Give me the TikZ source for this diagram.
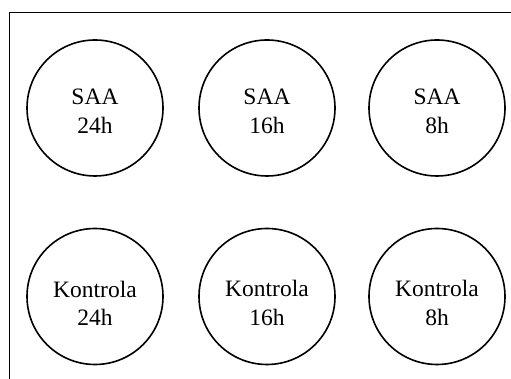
\documentclass[tikz,border=0pt]{standalone}
\usepackage{fontspec}
\setmainfont{Liberation Serif}
\begin{document}
\begin{tikzpicture}[x=1pt,y=1pt,
  group/.style={circle,draw,line width=1.6pt,minimum size=136pt,inner sep=0pt},
  grouptext/.style={align=center,inner sep=0pt,
    font=\fontsize{23.5pt}{28.5pt}\selectfont}]
\useasboundingbox (0,0) rectangle (511,379);

% open frame: left and top edges only
\draw[line width=1.2pt] (9.5,0) -- (9.5,366.5) -- (511,366.5);

% upper row: SAA groups
\node[group] (saa24) at (95,271) {};
\node[group] (saa16) at (267,271) {};
\node[group] (saa8)  at (437,271) {};

% lower row: control groups
\node[group] (k24) at (95,82.5) {};
\node[group] (k16) at (267,82.5) {};
\node[group] (k8)  at (437,82.5) {};

% labels
\node[grouptext] (tsaa24) at ([yshift=-3.3pt]saa24.center) {SAA\\24h};
\node[grouptext] (tsaa16) at ([yshift=-3.3pt]saa16.center) {SAA\\16h};
\node[grouptext] (tsaa8)  at ([yshift=-3.3pt]saa8.center)  {SAA\\8h};
\node[grouptext] (tk24) at ([yshift=-6.7pt]k24.center) {Kontrola\\24h};
\node[grouptext] (tk16) at ([yshift=-6.7pt]k16.center) {Kontrola\\16h};
\node[grouptext] (tk8)  at ([yshift=-6.7pt]k8.center)  {Kontrola\\8h};
\end{tikzpicture}
\end{document}
